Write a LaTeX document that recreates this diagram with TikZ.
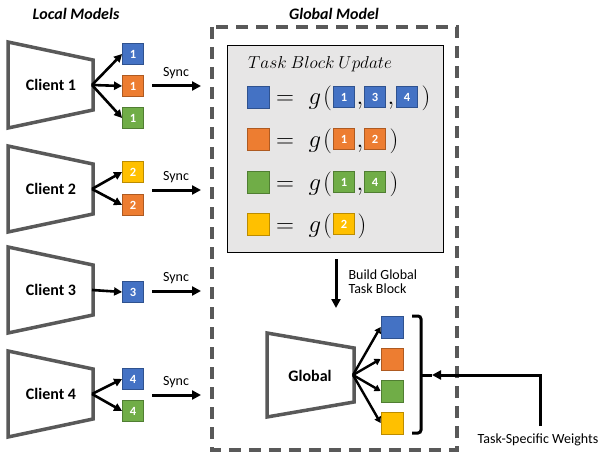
\documentclass[tikz,border=0pt]{standalone}
\usepackage{fontspec}
\setmainfont{Carlito}
\usetikzlibrary{arrows.meta}
\definecolor{tbBlue}{HTML}{4472C4}\definecolor{tbBlueD}{HTML}{2F528F}
\definecolor{tbOrange}{HTML}{ED7D31}\definecolor{tbOrangeD}{HTML}{AE5A21}
\definecolor{tbGreen}{HTML}{70AD47}\definecolor{tbGreenD}{HTML}{507E32}
\definecolor{tbYellow}{HTML}{FFC000}\definecolor{tbYellowD}{HTML}{BC8C00}
\definecolor{boxGray}{HTML}{E7E6E6}
\definecolor{edgeGray}{HTML}{595959}
\begin{document}
\begin{tikzpicture}[x=1pt, y=-1pt,
		trap/.style={draw=edgeGray, line width=3.5pt, fill=white, line join=miter},
		tskblk/.style={fill=tb#1, draw=tb#1D, line width=0.8pt, minimum size=21pt, inner sep=0pt,
			text=white, font=\bfseries\fontsize{12.5}{12.5}\selectfont},
		bigblk/.style={tskblk=#1, minimum size=22pt},
		arr/.style={line width=2.6pt, -{Triangle[length=8pt,width=8pt]}},
		syncarr/.style={line width=3pt, -{Triangle[length=9pt,width=9pt]}},
		lbl/.style={font=\bfseries\fontsize{16}{16}\selectfont},
		small/.style={font=\fontsize{14}{14}\selectfont},
		eq/.style={font=\fontsize{27}{27}\selectfont, inner sep=0pt, anchor=base}]
	\useasboundingbox (0,0) rectangle (598,452);
	
	%titles
	\node[lbl, font=\bfseries\itshape\fontsize{16}{16}\selectfont] (loctitle) at (76,14) {Local Models};
	\node[lbl, font=\bfseries\itshape\fontsize{16}{16}\selectfont] (globtitle) at (334,14) {Global Model};
	
	%global model frame
	\draw[edgeGray, line width=3.5pt, dash pattern=on 12pt off 8pt] (212,27) rectangle (457,450);
	
	%clients
	\foreach \n/\y in {1/85, 2/189, 3/290, 4/394}{
		\draw[trap] (8,\y-43) -- (93,\y-25) -- (93,\y+25) -- (8,\y+43) -- cycle;
		\node[lbl] (client\n) at (51,\y) {Client \n};
		\coordinate (out\n) at (92,\y);
		\coordinate (syncA\n) at (152,\y+1);
		\coordinate (syncB\n) at (201,\y+1);
		\node[small] (sync\n) at (176,\y-12) {Sync};
		\draw[syncarr] (syncA\n) -- (syncB\n);
	}
	
	%local task blocks
	\node[tskblk=Blue] (b1) at (133,54) {1};
	\node[tskblk=Orange] (o1) at (133,86) {1};
	\node[tskblk=Green] (g1) at (133,118) {1};
	\node[tskblk=Yellow] (y2) at (133,172) {2};
	\node[tskblk=Orange] (o2) at (133,205) {2};
	\node[tskblk=Blue] (b3) at (133,292) {3};
	\node[tskblk=Blue] (b4) at (133,379) {4};
	\node[tskblk=Green] (g4) at (133,411) {4};
	\foreach \s/\t in {1/b1, 1/o1, 1/g1, 2/y2, 2/o2, 3/b3, 4/b4, 4/g4}{
		\draw[arr] (out\s) -- (\t.west);
	}
	
	%task block update
	\node[draw=black, line width=0.8pt, fill=boxGray, minimum width=216pt, minimum height=207pt,
		inner sep=0pt] (update) at (335,148.5) {};
	\node[font=\fontsize{17.5}{17.5}\selectfont, anchor=west, inner sep=0pt] (uptitle) at (248,64) {$Task~Block~Update$};
	\foreach \c/\y in {Blue/97, Orange/139, Green/182, Yellow/224}{
		\node[bigblk=\c] (big\c) at (258,\y) {};
		\node[eq] (eq\c) at (285,\y+8) {$=$};
		\node[eq] (g\c) at (315,\y+8) {$g$};
		\node[eq] (lp\c) at (327.5,\y+8) {$($};
	}
	\node[tskblk=Blue] (ub1) at (344,97) {1};
	\node[eq] (cm1) at (360,105) {$,$};
	\node[tskblk=Blue] (ub3) at (375,97) {3};
	\node[eq] (cm2) at (391,105) {$,$};
	\node[tskblk=Blue] (ub4) at (407,97) {4};
	\node[eq] (rp1) at (426,105) {$)$};
	\node[tskblk=Orange] (uo1) at (344,139) {1};
	\node[eq] (cm3) at (360,147) {$,$};
	\node[tskblk=Orange] (uo2) at (375,139) {2};
	\node[eq] (rp2) at (394,147) {$)$};
	\node[tskblk=Green] (ug1) at (344,182) {1};
	\node[eq] (cm4) at (360,190) {$,$};
	\node[tskblk=Green] (ug4) at (375,182) {4};
	\node[eq] (rp3) at (394,190) {$)$};
	\node[tskblk=Yellow] (uy2) at (344,224) {2};
	\node[eq] (rp4) at (362,232) {$)$};
	
	%build global task block
	\coordinate (bgEnd) at (336,308);
	\draw[syncarr] (update.south -| bgEnd) ++(0,7) -- (bgEnd);
	\node[small, align=left, anchor=west] (buildlbl) at (345,282) {Build Global\\Task Block};
	
	%global model
	\draw[trap] (267,333) -- (354,348) -- (354,402) -- (267,417) -- cycle;
	\node[lbl] (global) at (310,376) {Global};
	\coordinate (gout) at (353,375);
	\node[bigblk=Blue] (gb) at (392,327) {};
	\node[bigblk=Orange] (go) at (392,359) {};
	\node[bigblk=Green] (gg) at (392,391) {};
	\node[bigblk=Yellow] (gy) at (392,423) {};
	\foreach \t in {gb, go, gg, gy}{
		\draw[line width=2.4pt, -{Triangle[length=6pt,width=7pt]}] (gout) -- (\t.west);
	}
	
	%bracket and task-specific weights
	\draw[line width=3pt, rounded corners=3pt] (412,316) -- (421,316) -- (421,433) -- (412,433);
	\coordinate (brtip) at (432,375);
	\draw[line width=3pt] (421,375) -- (brtip);
	\node[small] (tsw) at (538,440) {Task-Specific Weights};
	\coordinate (tswTop) at (540,426);
	\draw[syncarr] (tswTop) |- (brtip);
\end{tikzpicture}
\end{document}
